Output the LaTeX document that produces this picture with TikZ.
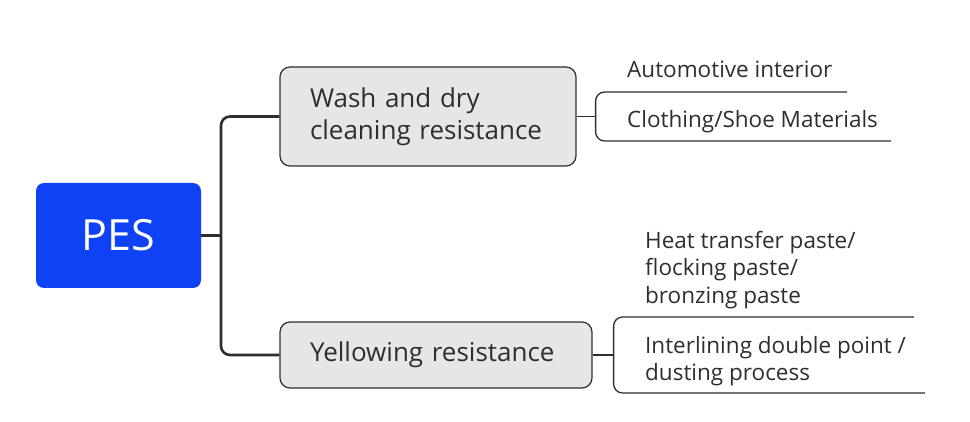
\documentclass[tikz,border=0pt]{standalone}
\usepackage{fontspec}
\setmainfont{Open Sans}

\definecolor{pesblue}{HTML}{0F42F5}
\definecolor{boxgray}{HTML}{E6E6E6}
\definecolor{inkgray}{HTML}{2E2E2E}

\tikzset{
  branch/.style={draw=inkgray, fill=boxgray, rounded corners=10pt, line width=1.2pt,
    inner xsep=30pt, align=left, font=\fontsize{26}{32.5}\selectfont},
  leaf/.style={inner sep=0pt, align=left, font=\fontsize{22.5}{27.5}\selectfont},
  trunk/.style={draw=inkgray, line width=2.6pt, rounded corners=9pt},
  twig/.style={draw=inkgray, line width=1.3pt, rounded corners=9pt}
}

\begin{document}
\begin{tikzpicture}[x=1pt, y=-1pt, every node/.style={text=inkgray}]
      \useasboundingbox (0,0) rectangle (970,422);

      % Root
      \node[fill=pesblue, rounded corners=8pt, minimum width=165pt, minimum height=105pt,
        text=white, font=\fontsize{43}{50}\selectfont] (PES) at (118.5,235.5) {PES};

      % Main branches
      \node[branch, minimum height=99pt, text width=236pt] (B-1) at (428,116.5) {Wash and dry\\cleaning resistance};
      \node[branch, minimum height=66pt, text width=252pt] (B-2) at (436,355) {Yellowing resistance};

      % Leaves
      \node[leaf, anchor=base west] (L-1) at (627,78) {Automotive interior};
      \node[leaf, anchor=base west] (L-2) at (627,128) {Clothing/Shoe Materials};
      \node[leaf, anchor=west] (L-3) at (645,270) {Heat transfer paste/\\flocking paste/\\bronzing paste};
      \node[leaf, anchor=west] (L-4) at (645,361) {Interlining double point /\\dusting process};

      % Underline ends
      \coordinate (U-1) at (847,92);
      \coordinate (U-2) at (891,141);
      \coordinate (U-3) at (914,317);
      \coordinate (U-4) at (925,393);

      % Root to branches
      \coordinate (hub) at (221,235.5);
      \draw[trunk] (PES.east) -- (hub);
      \draw[trunk] (B-1.west) -| (hub) |- (B-2.west);

      % Branches to leaves
      \path (B-1.east) ++(19,0) coordinate (F-1);
      \path (B-2.east) ++(21,0) coordinate (F-2);
      \draw[twig] (B-1.east) -- (F-1);
      \draw[twig] (B-2.east) -- (F-2);
      \draw[twig] (U-1) -| (F-1) |- (U-2);
      \draw[twig] (U-3) -| (F-2) |- (U-4);

\end{tikzpicture}
\end{document}
